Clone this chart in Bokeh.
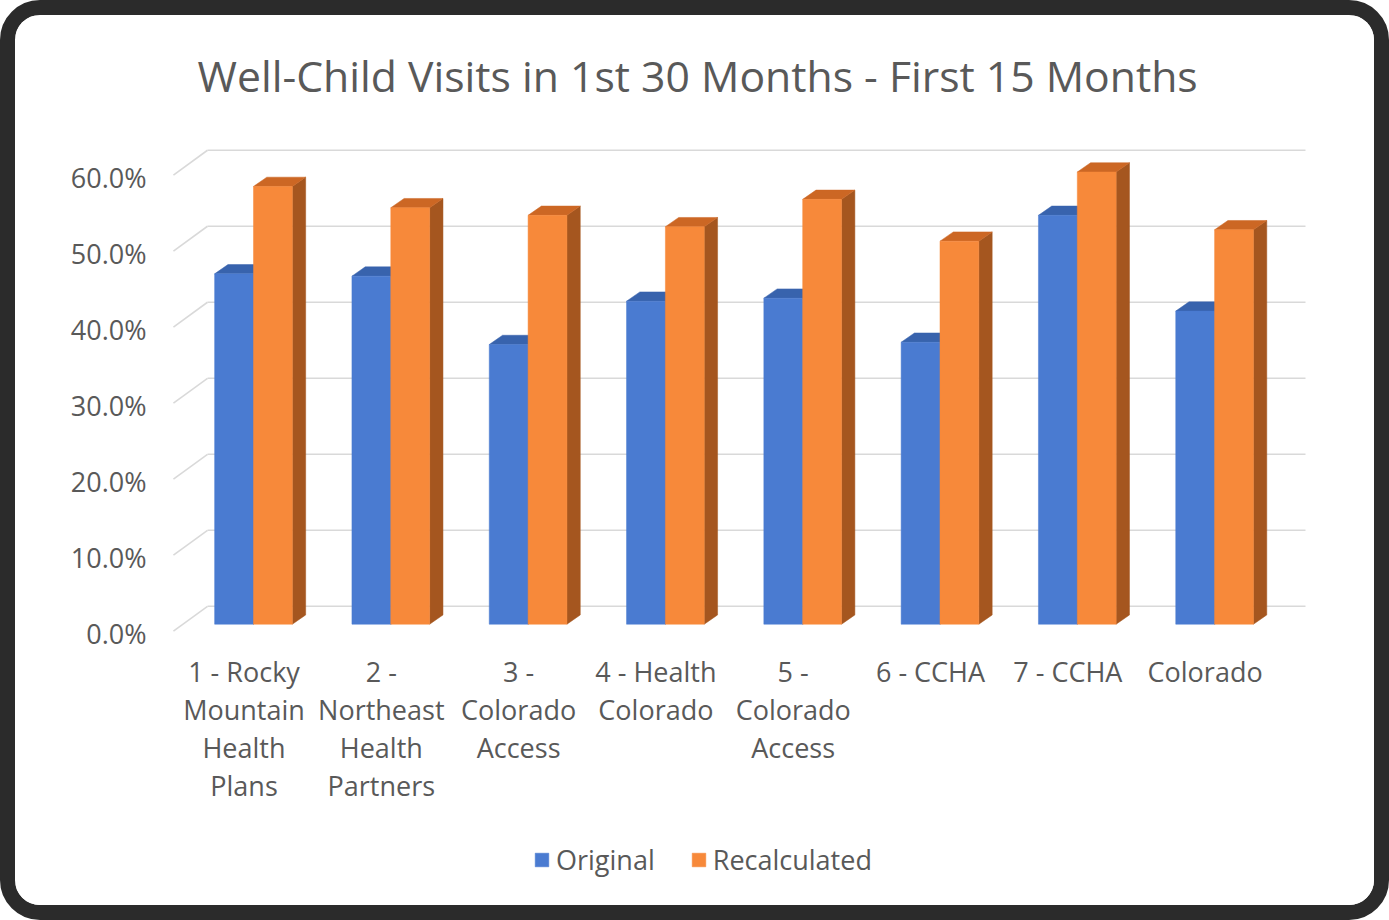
from bokeh.plotting import figure
from bokeh.models import (Range1d, LinearAxis, FixedTicker, PrintfTickFormatter,
                          Legend, LegendItem)
from bokeh.core.properties import value
from bokeh.embed import file_html
from bokeh.resources import INLINE

# ---------------- data ----------------
categories = [
    "1 - Rocky\nMountain\nHealth\nPlans",
    "2 -\nNortheast\nHealth\nPartners",
    "3 -\nColorado\nAccess",
    "4 - Health\nColorado",
    "5 -\nColorado\nAccess",
    "6 - CCHA",
    "7 - CCHA",
    "Colorado",
]
original = [46.1, 45.8, 36.8, 42.5, 42.9, 37.1, 53.8, 41.2]
recalculated = [57.6, 54.8, 53.8, 52.3, 55.9, 50.4, 59.5, 51.9]
y_ticks = [0, 10, 20, 30, 40, 50, 60]
series_names = ["Original", "Recalculated"]
title_text = "Well-Child Visits in 1st 30 Months - First 15 Months"

# ---------------- style / geometry ----------------
FONT = "Open Sans"
TXT = "#595959"
BLUE, BLUE_TOP, BLUE_SIDE = "#4a7bd1", "#3863ad", "#2f528f"
ORG, ORG_TOP, ORG_SIDE = "#f7893a", "#cc6724", "#a5561f"
GRID = "#d9d9d9"

W = 0.283              # bar width (category units)
DX, DY = 0.097, 1.22   # bar depth offset (x cat units, y value units)
WALL_DY = 2.36         # back wall offset above bar front plane
BACK_L, BACK_R_PAD = -0.335, 0.662
SIDE_X0, SIDE_DY = -0.583, -0.92
CAT_LABEL_Y = -3.8     # top of category label block (value units, below floor)

n = len(categories)
idx = list(range(n))

p = figure(width=1359, height=890, output_backend="svg", toolbar_location=None,
           x_range=Range1d(-0.6773, 7.7713), y_range=Range1d(-35.696, 64.698),
           x_axis_type=None, y_axis_type=None,
           min_border_left=145, min_border_right=84,
           min_border_top=115, min_border_bottom=40)
p.outline_line_color = None
p.background_fill_color = "white"
p.border_fill_color = "white"
p.stylesheets = [":host { border: 15px solid #2b2b2b; border-radius: 40px; "
                 "overflow: hidden; box-sizing: content-box; background: white; }"]

p.extra_x_ranges = {"lab": Range1d(-0.6082, 7.8405)}
p.extra_y_ranges = {"lab": Range1d(-34.514, 65.879)}

# back wall gridlines and left side-wall lines
back_right = n - 1 + BACK_R_PAD
p.segment(x0=[BACK_L] * len(y_ticks), x1=[back_right] * len(y_ticks),
          y0=[v + WALL_DY for v in y_ticks], y1=[v + WALL_DY for v in y_ticks],
          line_color=GRID, line_width=1.6)
p.segment(x0=[SIDE_X0] * len(y_ticks), x1=[BACK_L] * len(y_ticks),
          y0=[v + SIDE_DY for v in y_ticks], y1=[v + WALL_DY for v in y_ticks],
          line_color=GRID, line_width=1.6)


def faces(centers, vals):
    xl = [c - W / 2 for c in centers]
    xr = [c + W / 2 for c in centers]
    top_xs = [[a, a + DX, b + DX, b] for a, b in zip(xl, xr)]
    top_ys = [[v, v + DY, v + DY, v] for v in vals]
    side_xs = [[b, b + DX, b + DX, b] for b in xr]
    side_ys = [[0, DY, v + DY, v] for v in vals]
    return top_xs, top_ys, side_xs, side_ys


bx = [i - W / 2 for i in idx]
ox = [i + W / 2 for i in idx]

tx, ty, sx, sy = faces(bx, original)
p.patches(sx, sy, fill_color=BLUE_SIDE, line_color=BLUE_SIDE, line_width=0.5)
p.patches(tx, ty, fill_color=BLUE_TOP, line_color=BLUE_TOP, line_width=0.5)
r_blue = p.vbar(x=bx, top=original, bottom=0, width=W, fill_color=BLUE,
                line_color=BLUE, line_width=0.5)

tx, ty, sx, sy = faces(ox, recalculated)
p.patches(sx, sy, fill_color=ORG_SIDE, line_color=ORG_SIDE, line_width=0.5)
p.patches(tx, ty, fill_color=ORG_TOP, line_color=ORG_TOP, line_width=0.5)
r_org = p.vbar(x=ox, top=recalculated, bottom=0, width=W, fill_color=ORG,
               line_color=ORG, line_width=0.5)

# category labels at the front edge of the floor
p.text(x=idx, y=[CAT_LABEL_Y] * n, text=categories, x_range_name="lab",
       text_align="center", text_baseline="top", text_font=value(FONT),
       text_font_size="27px", text_color=TXT, text_line_height=1.03)

# y axis (front plane of the floor)
yax = LinearAxis(y_range_name="lab", ticker=FixedTicker(ticks=y_ticks),
                 formatter=PrintfTickFormatter(format="%.1f%%"))
yax.axis_line_color = None
yax.major_tick_line_color = None
yax.minor_tick_line_color = None
yax.major_tick_out = 0
yax.major_tick_in = 0
yax.major_label_text_font = FONT
yax.major_label_text_font_size = "27px"
yax.major_label_text_color = TXT
yax.major_label_standoff = 14
p.add_layout(yax, "left")

# title
p.title.text = title_text
p.title.align = "left"
p.title.offset = 37
p.title.standoff = 56
p.title.text_font = FONT
p.title.text_font_size = "42.7px"
p.title.text_font_style = "normal"
p.title.text_color = TXT

# legend (inside the frame, below the category labels)
legend = Legend(items=[LegendItem(label=series_names[0], renderers=[r_blue]),
                       LegendItem(label=series_names[1], renderers=[r_org])],
                orientation="horizontal", location=(373, 17),
                glyph_width=17, glyph_height=17, label_standoff=6, spacing=35,
                label_height=30, padding=0, margin=0,
                border_line_color=None, background_fill_alpha=0,
                label_text_font=FONT, label_text_font_size="27px",
                label_text_color=TXT)
p.add_layout(legend, "center")

open("out.html", "w").write(file_html(p, INLINE))
